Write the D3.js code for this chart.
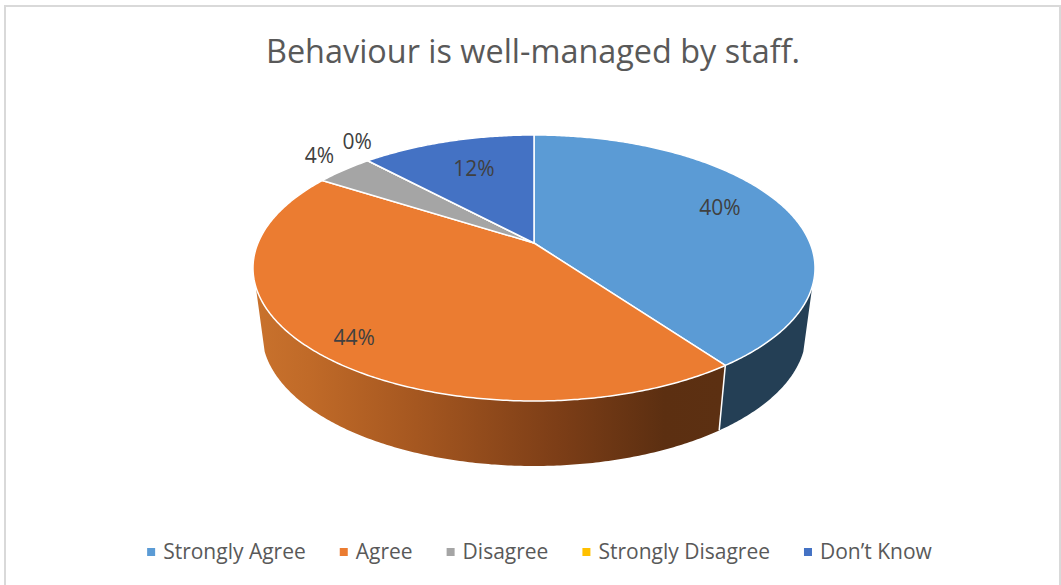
<!DOCTYPE html>
<html>
<head>
<meta charset="utf-8">
<title>Behaviour is well-managed by staff.</title>
<script src="https://cdn.jsdelivr.net/npm/d3@7"></script>
<style>
	html, body { margin: 0; padding: 0; background: #fff; }
	svg { display: block; }
	text { font-family: "Open Sans", sans-serif; }
</style>
</head>
<body>
<div class="vis"></div>
<script>
'use strict';

var chartTitle = 'Behaviour is well-managed by staff.';
var categories = ['Strongly Agree', 'Agree', 'Disagree', 'Strongly Disagree', 'Don\u2019t Know'];
var percentages = [40, 44, 4, 0, 12];
var sliceColors = ['#5b9bd5', '#eb7c31', '#a5a5a5', '#ffc000', '#4472c4'];

var width = 1061;
var height = 585;

// top and bottom faces of the disc, as seen in the picture
var topFace = { cx: 534, cy: 268, rx: 281, ry: 133 };
var bottomFace = { cx: 534, cy: 333, rx: 272, ry: 133 };
// how far the pie centre sits above the middle of the ellipse (perspective)
var tilt = 0.188;
// the side wall is only visible between these angles
var wallStart = 108.6 * Math.PI / 180;
var wallEnd = 251.4 * Math.PI / 180;

// label placement: radius as a share of the pie, then a small vertical nudge
var labelRadius = [0.739, 0.842, 1.147, 1.074, 0.659];
var labelNudge = [-7, 6, -5, -13, -4];

var svg = d3.select('.vis')
	.append('svg')
		.attr('width', width)
		.attr('height', height);

// orange side wall gets darker towards the right
var gradient = svg.append('defs')
	.append('linearGradient')
		.attr('id', 'wallOrange')
		.attr('gradientUnits', 'userSpaceOnUse')
		.attr('x1', 253).attr('x2', 720)
		.attr('y1', 0).attr('y2', 0);

gradient.selectAll('stop')
	.data([[0, '#c9722d'], [0.12, '#c06a28'], [0.35, '#a55720'], [0.65, '#7d3e17'], [0.88, '#5c2f11'], [1, '#5c3012']])
	.enter()
	.append('stop')
		.attr('offset', function(d) { return d[0]; })
		.attr('stop-color', function(d) { return d[1]; });

var wallFill = ['#243f55', 'url(#wallOrange)', '#5f5f5f', '#8f6f00', '#2a4575'];

// chart frame, open at the bottom like the cropped original
svg.append('path')
	.attr('d', 'M5,' + height + 'V6H1060V' + height)
	.attr('fill', 'none')
	.attr('stroke', '#d9d9d9')
	.attr('stroke-width', 2);

svg.append('text')
	.attr('x', 533)
	.attr('y', 63)
	.attr('text-anchor', 'middle')
	.attr('font-size', 32.4)
	.attr('fill', '#595959')
	.text(chartTitle);

/**
 * Projects an angle (clockwise from 12 o'clock) and radius on the disc to the screen.
 */
function project( face, angle, r ) {
	var u = r * Math.sin(angle);
	var v = r * Math.cos(angle);
	var w = 1 + tilt * v;

	return [
		face.cx + face.rx * u * Math.sqrt(1 - tilt * tilt) / w,
		face.cy - face.ry * (v + tilt) / w
	];
}

function arcPoints( face, a0, a1 ) {
	var steps = Math.max(2, Math.ceil(Math.abs(a1 - a0) / 0.01));

	return d3.range(steps + 1).map(function(i) {
		return project(face, a0 + (a1 - a0) * i / steps, 1);
	});
}

var line = d3.line();

var slices = d3.pie()
	.sort(null)
	.value(function(d) { return d; })(percentages);

// side walls first, the top face is drawn over them
var walls = slices
	.map(function(d) {
		return { index: d.index, a0: Math.max(d.startAngle, wallStart), a1: Math.min(d.endAngle, wallEnd) };
	})
	.filter(function(d) { return d.a1 > d.a0; });

svg.selectAll('path.wall')
	.data(walls)
	.enter()
	.append('path')
		.attr('class', 'wall')
		.attr('fill', function(d) { return wallFill[d.index]; })
		.attr('d', function(d) {
			var points = arcPoints(topFace, d.a0, d.a1).concat(arcPoints(bottomFace, d.a1, d.a0));
			return line(points) + 'Z';
		});

// white seam between two walls
svg.selectAll('line.seam')
	.data(walls.filter(function(d) { return d.a0 > wallStart; }))
	.enter()
	.append('line')
		.attr('class', 'seam')
		.attr('stroke', '#fff')
		.attr('stroke-width', 1.5)
		.attr('x1', function(d) { return project(topFace, d.a0, 1)[0]; })
		.attr('y1', function(d) { return project(topFace, d.a0, 1)[1]; })
		.attr('x2', function(d) { return project(bottomFace, d.a0, 1)[0]; })
		.attr('y2', function(d) { return project(bottomFace, d.a0, 1)[1]; });

svg.selectAll('path.slice')
	.data(slices)
	.enter()
	.append('path')
		.attr('class', 'slice')
		.attr('fill', function(d) { return sliceColors[d.index]; })
		.attr('stroke', '#fff')
		.attr('stroke-width', 1.5)
		.attr('stroke-linejoin', 'round')
		.attr('d', function(d) {
			var points = [project(topFace, 0, 0)].concat(arcPoints(topFace, d.startAngle, d.endAngle));
			return line(points) + 'Z';
		});

svg.selectAll('text.value')
	.data(slices)
	.enter()
	.append('text')
		.attr('class', 'value')
		.attr('text-anchor', 'middle')
		.attr('font-size', 21)
		.attr('fill', '#404040')
		.attr('x', function(d) {
			return project(topFace, (d.startAngle + d.endAngle) / 2, labelRadius[d.index])[0];
		})
		.attr('y', function(d) {
			return project(topFace, (d.startAngle + d.endAngle) / 2, labelRadius[d.index])[1] + labelNudge[d.index] + 7;
		})
		.text(function(d) { return d.value + '%'; });

// legend: swatch, label, then a fixed gap, centred as one row
var legend = svg.append('g');
var legendX = 0;

categories.forEach(function(name, i) {
	var item = legend.append('g').attr('transform', 'translate(' + legendX + ',0)');

	item.append('rect')
		.attr('x', 0)
		.attr('y', 548)
		.attr('width', 8)
		.attr('height', 8)
		.attr('fill', sliceColors[i]);

	var label = item.append('text')
		.attr('x', 16)
		.attr('y', 559)
		.attr('font-size', 21)
		.attr('fill', '#595959')
		.text(name);

	legendX += 16 + label.node().getComputedTextLength() + 34;
});

legend.attr('transform', 'translate(' + (539.5 - (legendX - 34) / 2) + ',0)');
</script>
</body>
</html>
